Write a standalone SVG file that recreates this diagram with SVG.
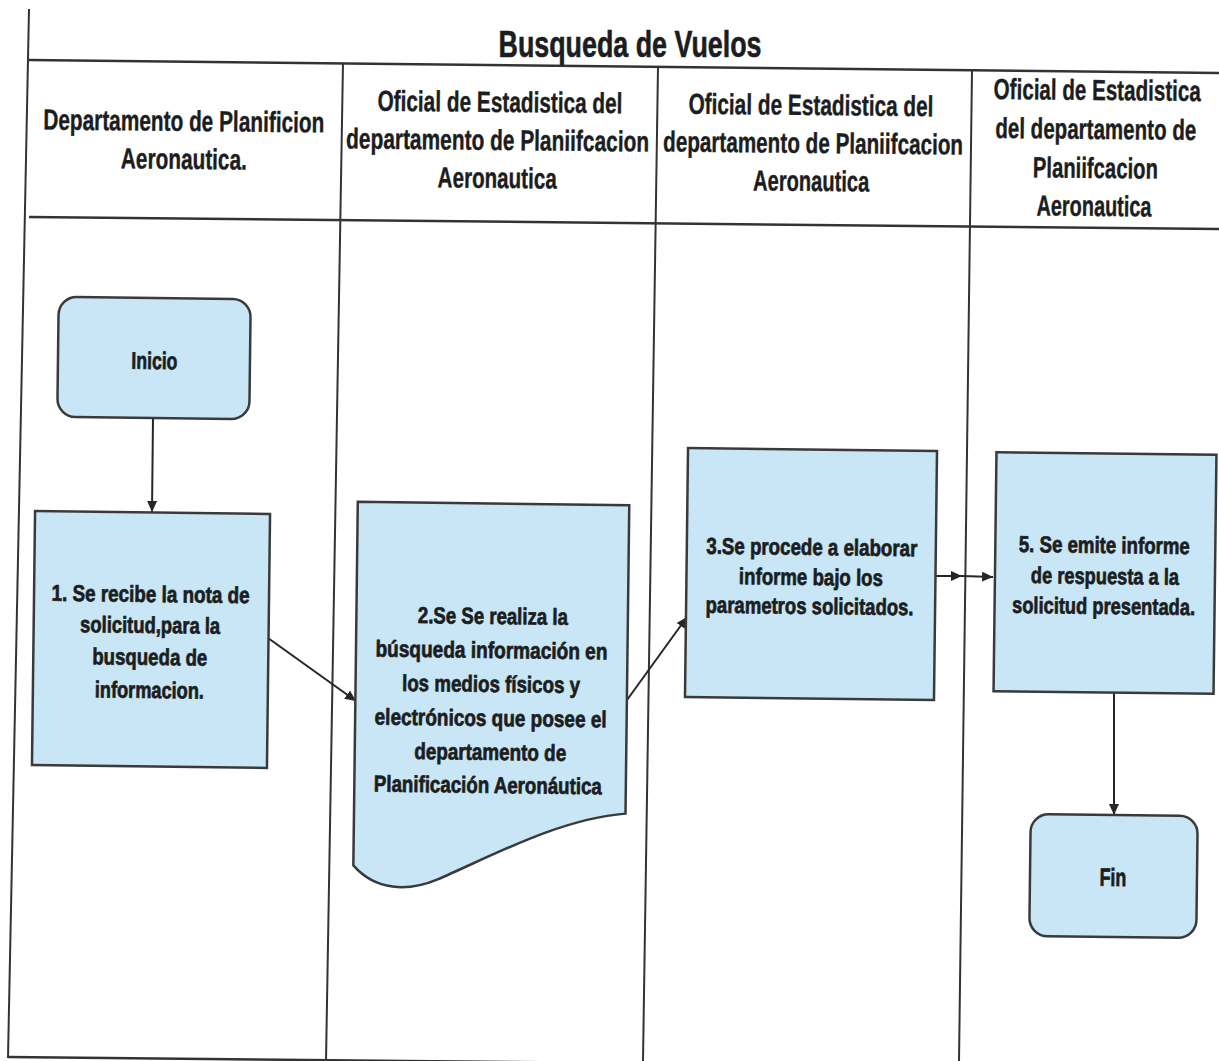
<svg xmlns="http://www.w3.org/2000/svg" width="1219" height="1061" viewBox="0 0 1219 1061">
<defs>
<style>
.ln{stroke:#333;stroke-width:2;fill:none}
.node{fill:#c8e6f6;stroke:#3a3a3a;stroke-width:2.5}
.t{font-family:"Liberation Sans",Arial,sans-serif;font-weight:bold;fill:#1b1d20;text-anchor:middle;stroke:#1b1d20;stroke-width:0.4}
.h{font-size:29px}
.b{font-size:23px;stroke-width:0.7}
.conn{stroke:#262626;stroke-width:2;fill:none;marker-end:url(#ah)}
</style>
<marker id="ah" markerUnits="userSpaceOnUse" markerWidth="12" markerHeight="10" refX="11" refY="5" orient="auto">
<path d="M0,0 L11,5 L0,10 Z" fill="#262626"/>
</marker>
</defs>
<rect width="1219" height="1061" fill="#ffffff"/>
<g id="table">
<line class="ln" x1="29" y1="9" x2="8" y2="1058"/>
<line class="ln" x1="29" y1="60" x2="1219" y2="73" style="stroke-width:2.5"/>
<line class="ln" x1="29" y1="217" x2="1219" y2="229" style="stroke-width:2.5"/>
<line class="ln" x1="8" y1="1057" x2="720" y2="1064" style="stroke-width:2.5"/>
<line class="ln" x1="343" y1="63" x2="326" y2="1061"/>
<line class="ln" x1="658" y1="67" x2="643" y2="1061"/>
<line class="ln" x1="972" y1="71" x2="959" y2="1061"/>
</g>
<g id="title">
<text class="t" x="630" y="57" style="font-size:36px;stroke-width:0.6" textLength="263" lengthAdjust="spacingAndGlyphs">Busqueda de Vuelos</text>
</g>
<g id="lane1-header" transform="rotate(0.6 184 150)">
<text class="t h" x="183.5" y="131" textLength="281" lengthAdjust="spacingAndGlyphs">Departamento de Planificion</text>
<text class="t h" x="184" y="169" textLength="126" lengthAdjust="spacingAndGlyphs">Aeronautica.</text>
</g>
<g id="lane2-header" transform="rotate(0.6 498 150)">
<text class="t h" x="499.5" y="112" textLength="245" lengthAdjust="spacingAndGlyphs">Oficial de Estadistica del</text>
<text class="t h" x="497.5" y="150" textLength="303" lengthAdjust="spacingAndGlyphs">departamento de Planiifcacion</text>
<text class="t h" x="497.5" y="188" textLength="119" lengthAdjust="spacingAndGlyphs">Aeronautica</text>
</g>
<g id="lane3-header" transform="rotate(0.6 812 153)">
<text class="t h" x="810.5" y="115" textLength="245" lengthAdjust="spacingAndGlyphs">Oficial de Estadistica del</text>
<text class="t h" x="813" y="153" textLength="300" lengthAdjust="spacingAndGlyphs">departamento de Planiifcacion</text>
<text class="t h" x="811.5" y="191" textLength="116" lengthAdjust="spacingAndGlyphs">Aeronautica</text>
</g>
<g id="lane4-header" transform="rotate(0.6 1096 158)">
<text class="t h" x="1096.5" y="100" textLength="207" lengthAdjust="spacingAndGlyphs">Oficial de Estadistica</text>
<text class="t h" x="1095.5" y="139" textLength="201" lengthAdjust="spacingAndGlyphs">del departamento de</text>
<text class="t h" x="1095.5" y="178" textLength="125" lengthAdjust="spacingAndGlyphs">Planiifcacion</text>
<text class="t h" x="1094.5" y="216" textLength="115" lengthAdjust="spacingAndGlyphs">Aeronautica</text>
</g>
<g id="connectors">
<line class="conn" x1="153" y1="418" x2="152" y2="512"/>
<line class="conn" x1="268" y1="638" x2="356" y2="701"/>
<line class="conn" x1="627" y1="700" x2="687" y2="617"/>
<line class="conn" x1="936" y1="576" x2="962" y2="576"/>
<line class="conn" x1="962" y1="576" x2="993" y2="577"/>
<line class="conn" x1="1114" y1="693" x2="1114" y2="815"/>
</g>
<g id="inicio" transform="rotate(0.7 154 358)">
<rect class="node" x="58" y="298" width="192" height="120" rx="18"/>
<text class="t" x="154.5" y="369" style="font-size:24px;stroke-width:0.7" textLength="46" lengthAdjust="spacingAndGlyphs">Inicio</text>
</g>
<g id="paso1" transform="rotate(0.7 151 640)">
<rect class="node" x="33.5" y="512.5" width="235" height="254"/>
<text class="t b" x="150" y="602" textLength="198" lengthAdjust="spacingAndGlyphs">1. Se recibe la nota de</text>
<text class="t b" x="150" y="633" textLength="140" lengthAdjust="spacingAndGlyphs">solicitud,para la</text>
<text class="t b" x="150" y="665" textLength="115" lengthAdjust="spacingAndGlyphs">busqueda de</text>
<text class="t b" x="150" y="698" textLength="109" lengthAdjust="spacingAndGlyphs">informacion.</text>
</g>
<g id="paso2" transform="rotate(0.7 493 690)">
<path class="node" d="M355.5,503.5 H627 V812 C560,818 490,858 440,880 C410,893 378,892 355.5,867 Z"/>
<text class="t b" x="492" y="624" textLength="150" lengthAdjust="spacingAndGlyphs">2.Se Se realiza la</text>
<text class="t b" x="491" y="658" textLength="232" lengthAdjust="spacingAndGlyphs">búsqueda información en</text>
<text class="t b" x="491" y="692" textLength="178" lengthAdjust="spacingAndGlyphs">los medios físicos y</text>
<text class="t b" x="491" y="726" textLength="232" lengthAdjust="spacingAndGlyphs">electrónicos que posee el</text>
<text class="t b" x="491" y="760" textLength="152" lengthAdjust="spacingAndGlyphs">departamento de</text>
<text class="t b" x="489" y="793" textLength="228" lengthAdjust="spacingAndGlyphs">Planificación Aeronáutica</text>
</g>
<g id="paso3" transform="rotate(0.7 811 574)">
<rect class="node" x="686.5" y="449.5" width="249" height="249"/>
<text class="t b" x="811.5" y="555" textLength="211" lengthAdjust="spacingAndGlyphs">3.Se procede a elaborar</text>
<text class="t b" x="811" y="585" textLength="144" lengthAdjust="spacingAndGlyphs">informe bajo los</text>
<text class="t b" x="810" y="614" textLength="208" lengthAdjust="spacingAndGlyphs">parametros solicitados.</text>
</g>
<g id="paso5" transform="rotate(0.7 1105 573)">
<rect class="node" x="995" y="453.5" width="220" height="239"/>
<text class="t b" x="1104" y="553" textLength="171" lengthAdjust="spacingAndGlyphs">5. Se emite informe</text>
<text class="t b" x="1105" y="584" textLength="148" lengthAdjust="spacingAndGlyphs">de respuesta a la</text>
<text class="t b" x="1104" y="614" textLength="183" lengthAdjust="spacingAndGlyphs">solicitud presentada.</text>
</g>
<g id="fin" transform="rotate(0.7 1113.5 876)">
<rect class="node" x="1030" y="815" width="167" height="122" rx="18"/>
<text class="t" x="1113" y="886" style="font-size:25px;stroke-width:0.7" textLength="27" lengthAdjust="spacingAndGlyphs">Fin</text>
</g>
</svg>
